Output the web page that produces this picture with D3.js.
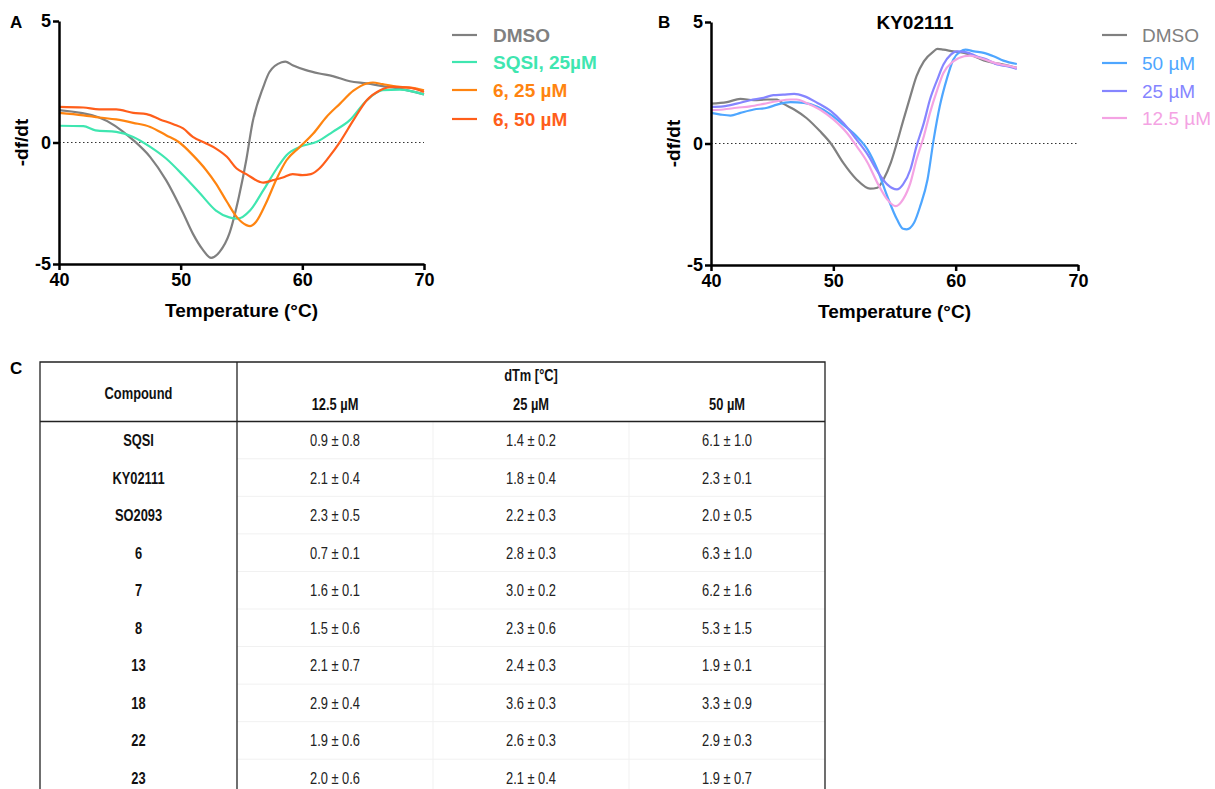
<!DOCTYPE html>
<html>
<head>
<meta charset="utf-8" />
<title>Thermal shift</title>
<style>
  body { margin: 0; background: #fff; }
  text { font-family: "Liberation Sans", Arial, Helvetica, sans-serif; }
  .tbl text { font-family: "Liberation Sans Narrow", "Arial Narrow", "Liberation Sans", sans-serif; font-size: 16.5px; }
</style>
</head>
<body>
<div id="chart"></div>
<script src="https://d3js.org/d3.v7.min.js"></script>
<script>
(function(d3) {
'use strict';

// ---- panel A data ----
var a_dmso_t = [40, 43.3, 46.1, 47.5, 48.8, 50.2, 51.0, 51.8, 52.5, 53.2, 54.0, 54.8, 55.4, 55.9, 56.8, 57.3, 58.3, 58.6, 59.2, 60.3, 61.4, 62.5, 63.9, 65.3, 66.6, 68.0, 70];
var a_dmso_v = [1.33, 1.03, 0.1, -0.6, -1.55, -2.9, -3.75, -4.4, -4.75, -4.5, -3.75, -2.2, -0.7, 0.8, 2.3, 2.9, 3.3, 3.33, 3.18, 2.98, 2.84, 2.73, 2.52, 2.43, 2.32, 2.22, 1.98];
var a_sqsi_t = [40, 42, 43, 44.7, 46.1, 47.5, 48.8, 50.2, 51.6, 52.9, 54.0, 54.7, 55.7, 56.8, 57.9, 58.7, 59.8, 61.2, 62.5, 63.9, 65.3, 66.6, 68.0, 70];
var a_sqsi_v = [0.69, 0.67, 0.5, 0.44, 0.23, -0.18, -0.66, -1.35, -2.1, -2.8, -3.08, -3.13, -2.8, -1.96, -1.07, -0.52, -0.18, 0.03, 0.44, 0.92, 1.74, 2.15, 2.18, 1.98];
var a_6_25_t = [40, 42, 43.3, 44.7, 46.1, 47.5, 48.8, 49.9, 51.0, 52.1, 52.9, 53.8, 54.6, 55.4, 55.7, 56.2, 57.0, 57.9, 58.7, 59.8, 60.9, 62.0, 63.1, 64.2, 65.3, 65.8, 66.6, 68.0, 69.4, 70];
var a_6_25_v = [1.22, 1.12, 1.03, 0.95, 0.81, 0.64, 0.3, 0, -0.52, -1.14, -1.69, -2.44, -3.06, -3.4, -3.44, -3.26, -2.51, -1.48, -0.73, -0.18, 0.37, 1.06, 1.6, 2.13, 2.43, 2.47, 2.4, 2.29, 2.22, 2.15];
var a_6_50_t = [40, 42, 43.3, 44.7, 46.1, 47.2, 48.3, 49.4, 50.2, 51.0, 52.1, 52.9, 53.8, 54.6, 55.4, 56.5, 56.8, 57.6, 58.4, 59.2, 60.0, 60.7, 61.4, 62.2, 63.1, 64.2, 65.3, 66.4, 67.4, 68.8, 70];
var a_6_50_v = [1.47, 1.44, 1.36, 1.36, 1.22, 1.17, 0.95, 0.75, 0.58, 0.23, -0.04, -0.25, -0.59, -1.07, -1.3, -1.62, -1.65, -1.55, -1.44, -1.3, -1.34, -1.3, -1.07, -0.59, 0.03, 0.92, 1.74, 2.15, 2.29, 2.26, 2.08];

// ---- panel B data (KY02111) ----
var b_dmso_t = [40, 41.3, 42.4, 43.5, 44.6, 45.4, 45.9, 46.8, 47.8, 48.9, 49.8, 50.8, 51.9, 53.0, 53.6, 54.1, 54.7, 55.2, 55.7, 56.3, 56.8, 57.4, 58.2, 58.5, 59.0, 59.8, 60.7, 61.5, 62.3, 63.1, 63.9, 65];
var b_dmso_v = [1.64, 1.7, 1.84, 1.78, 1.81, 1.81, 1.64, 1.4, 1.05, 0.51, 0, -0.79, -1.48, -1.86, -1.82, -1.48, -0.79, 0.03, 0.92, 1.95, 2.77, 3.38, 3.79, 3.89, 3.86, 3.79, 3.73, 3.59, 3.42, 3.32, 3.25, 3.11];
var b_50_t = [40, 40.8, 41.6, 42.4, 43.5, 44.6, 45.4, 46.5, 47.6, 48.7, 49.8, 50.8, 51.9, 52.8, 53.6, 54.4, 55.2, 55.7, 56.0, 56.6, 57.1, 57.7, 58.2, 58.7, 59.3, 59.8, 60.4, 60.8, 61.5, 62.3, 63.1, 63.9, 65];
var b_50_v = [1.26, 1.19, 1.15, 1.26, 1.4, 1.47, 1.6, 1.7, 1.67, 1.51, 1.19, 0.78, 0.3, -0.25, -1.07, -2.16, -3.12, -3.51, -3.53, -3.26, -2.58, -1.48, 0.16, 1.53, 2.7, 3.45, 3.79, 3.86, 3.79, 3.73, 3.59, 3.41, 3.27];
var b_25_t = [40, 41, 42.1, 43.2, 44.3, 45.1, 45.9, 46.8, 47.6, 48.7, 49.8, 50.8, 51.9, 52.8, 53.6, 54.4, 55.2, 55.7, 56.3, 56.8, 57.4, 57.9, 58.5, 59.0, 59.6, 60.1, 60.9, 61.7, 62.6, 63.4, 64.2, 65];
var b_25_v = [1.51, 1.53, 1.64, 1.78, 1.88, 1.99, 2.01, 2.04, 1.95, 1.67, 1.33, 0.85, 0.16, -0.45, -1.14, -1.68, -1.89, -1.68, -1.07, -0.11, 0.85, 1.81, 2.63, 3.25, 3.66, 3.79, 3.75, 3.59, 3.45, 3.25, 3.18, 3.07];
var b_12_t = [40, 41, 42.1, 43.2, 44.3, 45.4, 46.5, 47.0, 47.8, 48.9, 50.0, 51.1, 51.9, 52.8, 53.6, 54.4, 55.1, 55.7, 56.3, 56.8, 57.4, 57.9, 58.5, 59.0, 59.8, 60.7, 61.2, 62.0, 62.8, 63.7, 64.5, 65];
var b_12_v = [1.37, 1.4, 1.47, 1.53, 1.63, 1.74, 1.81, 1.81, 1.67, 1.4, 0.99, 0.44, -0.11, -0.79, -1.62, -2.3, -2.58, -2.3, -1.62, -0.66, 0.3, 1.26, 2.22, 2.9, 3.38, 3.59, 3.62, 3.52, 3.38, 3.25, 3.18, 3.11];

var xTicks = [40, 50, 60, 70];
var yTicks = [-5, 0, 5];

// ---- panel C table ----
var compounds = ['SQSI', 'KY02111', 'SO2093', '6', '7', '8', '13', '18', '22', '23'];
var concLabels = ['12.5 µM', '25 µM', '50 µM'];
var dtm125 = ['0.9 ± 0.8', '2.1 ± 0.4', '2.3 ± 0.5', '0.7 ± 0.1', '1.6 ± 0.1', '1.5 ± 0.6', '2.1 ± 0.7', '2.9 ± 0.4', '1.9 ± 0.6', '2.0 ± 0.6'];
var dtm25  = ['1.4 ± 0.2', '1.8 ± 0.4', '2.2 ± 0.3', '2.8 ± 0.3', '3.0 ± 0.2', '2.3 ± 0.6', '2.4 ± 0.3', '3.6 ± 0.3', '2.6 ± 0.3', '2.1 ± 0.4'];
var dtm50  = ['6.1 ± 1.0', '2.3 ± 0.1', '2.0 ± 0.5', '6.3 ± 1.0', '6.2 ± 1.6', '5.3 ± 1.5', '1.9 ± 0.1', '3.3 ± 0.9', '2.9 ± 0.3', '1.9 ± 0.7'];

function zip(t, v) { return t.map(function(d, i) { return { t: d, v: v[i] }; }); }

var seriesA = [
  { label: 'DMSO', color: '#808080', pts: zip(a_dmso_t, a_dmso_v) },
  { label: 'SQSI, 25µM', color: '#3fe6b0', pts: zip(a_sqsi_t, a_sqsi_v) },
  { label: '6, 25 µM', color: '#ff8410', pts: zip(a_6_25_t, a_6_25_v) },
  { label: '6, 50 µM', color: '#ff5e1a', pts: zip(a_6_50_t, a_6_50_v) }
];
var seriesB = [
  { label: 'DMSO', color: '#808080', pts: zip(b_dmso_t, b_dmso_v) },
  { label: '50 µM', color: '#4ea6ff', pts: zip(b_50_t, b_50_v) },
  { label: '25 µM', color: '#8585ff', pts: zip(b_25_t, b_25_v) },
  { label: '12.5 µM', color: '#f4a3e3', pts: zip(b_12_t, b_12_v) }
];

var width = 1215, height = 789;
var svg = d3.select('#chart').append('svg')
  .attr('width', width).attr('height', height);
svg.append('rect').attr('width', width).attr('height', height).attr('fill', '#fff');

function panel(opts) {
  var x = d3.scaleLinear().domain([40, 70]).range([opts.x0, opts.x1]);
  var y = d3.scaleLinear().domain([-5, 5]).range([opts.y1, opts.y0]);
  var g = svg.append('g');

  // zero line
  g.append('line')
    .attr('x1', x(40)).attr('x2', x(70))
    .attr('y1', y(0)).attr('y2', y(0))
    .attr('stroke', '#333').attr('stroke-width', 1)
    .attr('stroke-dasharray', '1.5,2.5');

  var line = d3.line()
    .x(function(d) { return x(d.t); })
    .y(function(d) { return y(d.v); })
    .curve(d3.curveMonotoneX);

  g.selectAll('path.s')
    .data(opts.series)
    .enter().append('path')
    .attr('class', 's')
    .attr('d', function(d) { return line(d.pts); })
    .attr('fill', 'none')
    .attr('stroke', function(d) { return d.color; })
    .attr('stroke-width', 2.2);

  var fmt = function(d) { return String(d); };
  var xa = g.append('g').attr('transform', 'translate(0,' + opts.y1 + ')')
    .call(d3.axisBottom(x).tickValues(xTicks).tickFormat(fmt).tickSize(6).tickSizeOuter(0).tickPadding(3));
  var ya = g.append('g').attr('transform', 'translate(' + opts.x0 + ',0)')
    .call(d3.axisLeft(y).tickValues(yTicks).tickFormat(fmt).tickSize(6).tickSizeOuter(0).tickPadding(2));
  [xa, ya].forEach(function(a) {
    a.select('.domain').attr('stroke', '#000').attr('stroke-width', 2.5);
    a.selectAll('.tick line').attr('stroke', '#000').attr('stroke-width', 2.5);
    a.selectAll('.tick text')
      .attr('fill', '#000')
      .style('font-family', '"Liberation Sans", Arial, sans-serif')
      .style('font-size', '18px').style('font-weight', 'bold');
  });

  g.append('text')
    .attr('x', (opts.x0 + opts.x1) / 2).attr('y', opts.y1 + 53)
    .attr('text-anchor', 'middle')
    .style('font-size', '19px').style('font-weight', 'bold')
    .text('Temperature (°C)');
  g.append('text')
    .attr('transform', 'translate(' + (opts.x0 - 31) + ',' + y(0) + ') rotate(-90)')
    .attr('text-anchor', 'middle')
    .style('font-size', '19px').style('font-weight', 'bold')
    .text('-df/dt');
  g.append('text')
    .attr('x', opts.labelX).attr('y', 28)
    .style('font-size', '17px').style('font-weight', 'bold')
    .text(opts.letter);

  if (opts.title) {
    g.append('text')
      .attr('x', opts.titleX).attr('y', 29)
      .attr('text-anchor', 'middle')
      .style('font-size', '19px').style('font-weight', 'bold')
      .text(opts.title);
  }

  // legend
  var lg = g.selectAll('g.leg')
    .data(opts.series)
    .enter().append('g')
    .attr('transform', function(d, i) { return 'translate(' + opts.legX + ',' + opts.legY[i] + ')'; });
  lg.append('line')
    .attr('x1', 0).attr('x2', 25).attr('y1', 0).attr('y2', 0)
    .attr('stroke', function(d) { return d.color; }).attr('stroke-width', 2.2);
  lg.append('text')
    .attr('x', opts.legText).attr('y', 7)
    .attr('fill', function(d) { return d.color; })
    .style('font-size', '19px').style('font-weight', opts.legWeight)
    .text(function(d) { return d.label; });
}

panel({ x0: 59, x1: 424, y0: 21, y1: 264, series: seriesA, letter: 'A', labelX: 10,
  legX: 452, legText: 41, legY: [35, 62, 90, 119], legWeight: 'bold' });
panel({ x0: 711, x1: 1078, y0: 22, y1: 265, series: seriesB, letter: 'B', labelX: 658,
  title: 'KY02111', titleX: 915,
  legX: 1102, legText: 40, legY: [35, 63, 91, 118], legWeight: 'normal' });

// ---- table ----
var tL = 40, tR = 825, tTop = 362, tHead = 421.5, tSep = 237;
var colX = d3.scaleBand().domain(concLabels).range([tSep, tR]);
var rowY = d3.scalePoint().domain(compounds).range([440, 778]);
var rowStep = rowY.step();

var tg = svg.append('g').attr('class', 'tbl');
svg.append('text').attr('x', 10).attr('y', 374)
  .style('font-size', '17px').style('font-weight', 'bold').text('C');

// narrow-looking cell text
function cell(x, y, txt, bold, fill) {
  tg.append('text')
    .attr('transform', 'translate(' + x + ',' + y + ') scale(0.78,1)')
    .attr('text-anchor', 'middle')
    .attr('fill', fill || '#111')
    .style('font-weight', bold ? 'bold' : 'normal')
    .text(txt);
}

// faint cell grid
tg.selectAll('line.rg').data(compounds.slice(1)).enter().append('line')
  .attr('x1', tSep).attr('x2', tR)
  .attr('y1', function(d) { return rowY(d) - rowStep / 2; })
  .attr('y2', function(d) { return rowY(d) - rowStep / 2; })
  .attr('stroke', '#f1f1f1').attr('stroke-width', 1);
tg.selectAll('line.cg').data(concLabels.slice(1)).enter().append('line')
  .attr('x1', function(d) { return colX(d); }).attr('x2', function(d) { return colX(d); })
  .attr('y1', tHead).attr('y2', height)
  .attr('stroke', '#f1f1f1').attr('stroke-width', 1);

// borders
tg.append('path')
  .attr('d', 'M' + tL + ',' + height + 'V' + tTop + 'H' + tR + 'V' + height)
  .attr('fill', 'none').attr('stroke', '#222').attr('stroke-width', 1.3);
tg.append('line').attr('x1', tSep).attr('x2', tSep).attr('y1', tTop).attr('y2', height)
  .attr('stroke', '#222').attr('stroke-width', 1.3);
tg.append('line').attr('x1', tL).attr('x2', tR).attr('y1', tHead).attr('y2', tHead)
  .attr('stroke', '#222').attr('stroke-width', 1.6);

// header
cell((tL + tSep) / 2, 399, 'Compound', true);
cell((tSep + tR) / 2, 381, 'dTm [°C]', true);
concLabels.forEach(function(d) {
  cell(colX(d) + colX.bandwidth() / 2, 410, d, true);
});

// body
var cols = [dtm125, dtm25, dtm50];
compounds.forEach(function(c, i) {
  cell((tL + tSep) / 2, rowY(c) + 6, c, true);
  cols.forEach(function(col, j) {
    cell(colX(concLabels[j]) + colX.bandwidth() / 2, rowY(c) + 6, col[i], false, '#222');
  });
});

})(window.d3);
</script>
</body>
</html>
